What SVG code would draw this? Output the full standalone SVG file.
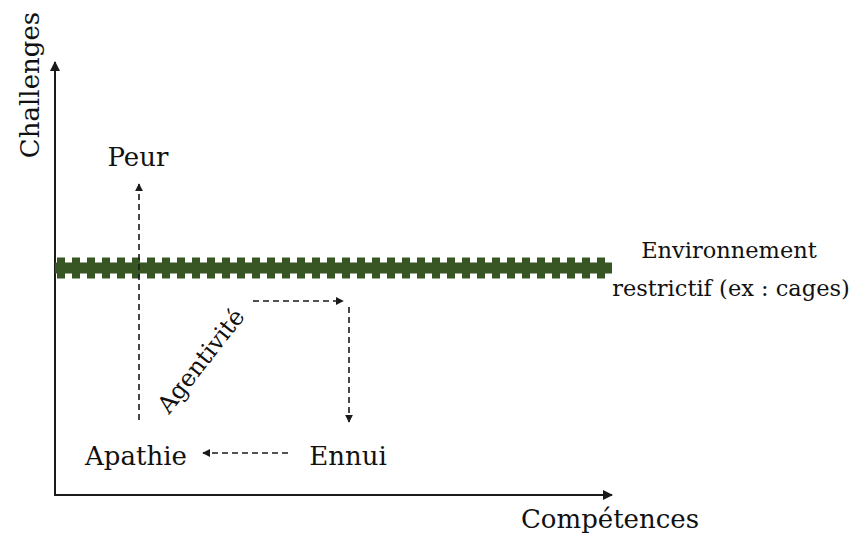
<svg xmlns="http://www.w3.org/2000/svg" width="850" height="536" viewBox="0 0 850 536">
<style>
  text { font-family: "DejaVu Serif", "Liberation Serif", serif; fill: #111111; }
  .lbl { font-size: 26px; text-anchor: middle; }
  .small { font-size: 22.5px; text-anchor: middle; }
  .axis { stroke: #1a1a1a; stroke-width: 2; fill: none; }
  .dash { stroke: #1a1a1a; stroke-width: 1.6; stroke-dasharray: 6 4; fill: none; }
</style>
<defs>
  <marker id="ah" viewBox="0 0 10 10" refX="9" refY="5" markerWidth="10" markerHeight="10" markerUnits="userSpaceOnUse" orient="auto">
    <path d="M0,0 L10,5 L0,10 z" fill="#1a1a1a"/>
  </marker>
  <marker id="ahs" viewBox="0 0 10 10" refX="9" refY="5" markerWidth="8" markerHeight="8" markerUnits="userSpaceOnUse" orient="auto">
    <path d="M0,0 L10,5 L0,10 z" fill="#1a1a1a"/>
  </marker>
</defs>
<g id="axes">
  <polyline class="axis" points="55,62 55,495 612,495" />
  <line class="axis" x1="55" y1="300" x2="55" y2="62" marker-end="url(#ah)"/>
  <line class="axis" x1="300" y1="495" x2="612" y2="495" marker-end="url(#ah)"/>
</g>
<g id="environment-band">
  <line x1="55" y1="268" x2="612" y2="268" stroke="#375623" stroke-width="11"/>
  <line x1="57" y1="268" x2="612" y2="268" stroke="#375623" stroke-width="21" stroke-dasharray="8 7"/>
</g>
<g id="connectors">
  <line class="dash" x1="139" y1="420" x2="139" y2="184" marker-end="url(#ahs)"/>
  <line class="dash" x1="253" y1="301" x2="343" y2="301" marker-end="url(#ahs)"/>
  <line class="dash" x1="349" y1="307" x2="349" y2="422" marker-end="url(#ahs)"/>
  <line class="dash" x1="288" y1="453" x2="203" y2="453" marker-end="url(#ahs)"/>
</g>
<g id="node-peur"><text class="lbl" x="138" y="166">Peur</text></g>
<g id="node-apathie"><text class="lbl" x="136" y="465">Apathie</text></g>
<g id="node-ennui"><text class="lbl" x="348" y="465">Ennui</text></g>
<g id="node-env"><text class="small" x="729" y="258">Environnement</text><text class="small" x="731" y="296">restrictif (ex : cages)</text></g>
<g id="label-agentivite"><text class="lbl" style="font-size:24px" transform="translate(201,361) rotate(-52)" x="0" y="8">Agentivité</text></g>
<g id="label-competences"><text class="lbl" x="610" y="528">Compétences</text></g>
<g id="label-challenges"><text class="lbl" transform="translate(39,85) rotate(-90)" x="0" y="0">Challenges</text></g>
</svg>
